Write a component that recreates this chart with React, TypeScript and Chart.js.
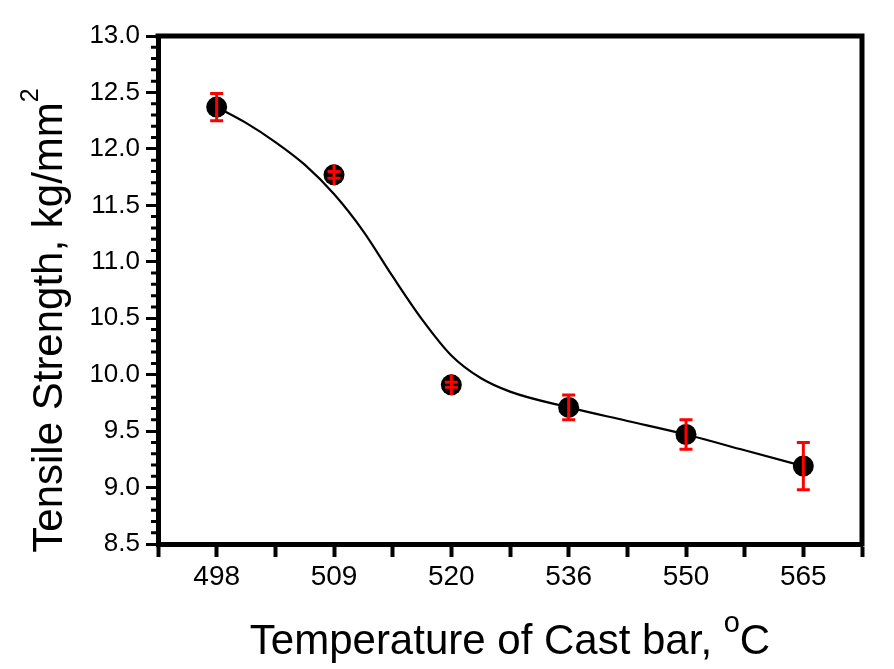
import React, { useEffect, useRef } from 'react';
import { Chart, registerables } from 'chart.js';

Chart.register(...registerables);

// ---- data ----
const categories = ['498', '509', '520', '536', '550', '565'];
const strength = [12.37, 11.77, 9.91, 9.71, 9.47, 9.19];
const errors = [0.12, 0.03, 0.022, 0.11, 0.13, 0.21];
const fitX = [0, 0.25, 0.5, 0.75, 1, 1.25, 1.5, 1.75, 2, 2.25, 2.5, 3, 3.5, 4, 4.5, 5];
const fitY = [12.37, 12.23, 12.06, 11.86, 11.60, 11.27, 10.87, 10.49, 10.17, 9.97, 9.85, 9.71, 9.59, 9.47, 9.33, 9.19];
const yMin = 8.5;
const yMax = 13.0;
const yMajorStep = 0.5;
const yMinorStep = 0.1;

const FONT = '"Liberation Sans", Arial, Helvetica, sans-serif';

const decorPlugin = {
  id: 'decor',
  afterDatasetsDraw(chart: any) {
    const ctx = chart.ctx;
    const ys = chart.scales.y;
    const meta = chart.getDatasetMeta(1);
    const r = 10.5;
    ctx.save();
    ctx.strokeStyle = '#ff0000';
    ctx.lineWidth = 3;
    meta.data.forEach((pt: any, i: number) => {
      const x = pt.x;
      const y = pt.y;
      const yt = ys.getPixelForValue(strength[i] + errors[i]);
      const yb = ys.getPixelForValue(strength[i] - errors[i]);
      ctx.beginPath();
      ctx.moveTo(x, Math.min(yt, y - r));
      ctx.lineTo(x, Math.max(yb, y + r));
      ctx.moveTo(x - 6.5, yt);
      ctx.lineTo(x + 6.5, yt);
      ctx.moveTo(x - 6.5, yb);
      ctx.lineTo(x + 6.5, yb);
      ctx.stroke();
    });
    ctx.restore();
  },
  afterDraw(chart: any) {
    const ctx = chart.ctx;
    const { left, right, top, bottom } = chart.chartArea;
    const ys = chart.scales.y;
    ctx.save();
    ctx.strokeStyle = '#000';
    ctx.lineWidth = 5;
    ctx.beginPath();
    ctx.moveTo(left - 2.5, top);
    ctx.lineTo(right, top);
    ctx.lineTo(right, bottom + 2.5);
    ctx.stroke();
    ctx.lineWidth = 3;
    const n = Math.round((yMax - yMin) / yMinorStep);
    const per = Math.round(yMajorStep / yMinorStep);
    ctx.beginPath();
    for (let k = 0; k <= n; k++) {
      if (k % per === 0) continue;
      const py = ys.getPixelForValue(yMin + k * yMinorStep);
      ctx.moveTo(left - 7, py);
      ctx.lineTo(left, py);
    }
    ctx.stroke();

    ctx.fillStyle = '#000';
    ctx.textBaseline = 'alphabetic';
    ctx.textAlign = 'left';
    const xMain = 'Temperature of Cast bar, ';
    const xSup = 'o';
    const xTail = 'C';
    ctx.font = `42px ${FONT}`;
    const w1 = ctx.measureText(xMain).width;
    const w3 = ctx.measureText(xTail).width;
    ctx.font = `29px ${FONT}`;
    const w2 = ctx.measureText(xSup).width;
    const sx = 510 - (w1 + w2 + w3) / 2;
    const by = 654;
    ctx.font = `42px ${FONT}`;
    ctx.fillText(xMain, sx, by);
    ctx.font = `29px ${FONT}`;
    ctx.fillText(xSup, sx + w1, by - 22);
    ctx.font = `42px ${FONT}`;
    ctx.fillText(xTail, sx + w1 + w2, by);

    ctx.translate(62, 320.5);
    ctx.rotate(-Math.PI / 2);
    const yMainT = 'Tensile Strength, kg/mm';
    const ySup = '2';
    ctx.font = `42px ${FONT}`;
    const v1 = ctx.measureText(yMainT).width;
    ctx.font = `25px ${FONT}`;
    const v2 = ctx.measureText(ySup).width;
    const st = -(v1 + v2) / 2;
    ctx.font = `42px ${FONT}`;
    ctx.fillText(yMainT, st, 0);
    ctx.font = `25px ${FONT}`;
    ctx.fillText(ySup, st + v1, -24);
    ctx.restore();
  },
};

export default function App() {
  const ref = useRef<HTMLCanvasElement | null>(null);

  useEffect(() => {
    if (!ref.current) return;
    const chart = new Chart(ref.current, {
      type: 'scatter',
      data: {
        datasets: [
          {
            type: 'line',
            data: fitX.map((x, i) => ({ x, y: fitY[i] })),
            borderColor: '#000',
            borderWidth: 2.2,
            pointRadius: 0,
            cubicInterpolationMode: 'monotone',
            fill: false,
          } as any,
          {
            type: 'scatter',
            data: categories.map((_, i) => ({ x: i, y: strength[i] })),
            pointRadius: 10.5,
            pointBackgroundColor: '#000',
            pointBorderWidth: 0,
            pointBorderColor: '#000',
            showLine: false,
          } as any,
        ],
      },
      options: {
        animation: false,
        responsive: false,
        layout: { padding: { left: 0, top: 36, right: 32, bottom: 0 } },
        plugins: {
          legend: { display: false },
          tooltip: { enabled: false },
        },
        scales: {
          x: {
            type: 'linear',
            min: -0.5,
            max: categories.length - 0.5,
            afterBuildTicks: (s: any) => {
              const t: any[] = [];
              for (let k = 0; k <= categories.length * 2; k++) t.push({ value: (k - 1) / 2 });
              s.ticks = t;
            },
            afterFit: (s: any) => {
              s.height = 125;
            },
            ticks: {
              autoSkip: false,
              maxRotation: 0,
              color: '#000',
              padding: 3,
              font: { family: FONT, size: 28 },
              callback: (v: any) => (Number.isInteger(v) ? categories[v] : ''),
            },
            grid: {
              drawOnChartArea: false,
              drawTicks: true,
              tickLength: 13,
              tickWidth: 4,
              tickColor: '#000',
            },
            border: { display: true, color: '#000', width: 5 },
          },
          y: {
            type: 'linear',
            min: yMin,
            max: yMax,
            afterFit: (s: any) => {
              s.width = 158;
            },
            ticks: {
              stepSize: yMajorStep,
              color: '#000',
              padding: 6,
              font: { family: FONT, size: 26 },
              callback: (v: any) => Number(v).toFixed(1),
            },
            grid: {
              drawOnChartArea: false,
              drawTicks: true,
              tickLength: 12,
              tickWidth: 3,
              tickColor: '#000',
            },
            border: { display: true, color: '#000', width: 5 },
          },
        },
      } as any,
      plugins: [decorPlugin],
    });
    return () => chart.destroy();
  }, []);

  return (
    <div style={{ position: 'absolute', left: 0, top: 0, width: 894, height: 669, background: '#fff' }}>
      <canvas ref={ref} width={894} height={669} />
    </div>
  );
}
